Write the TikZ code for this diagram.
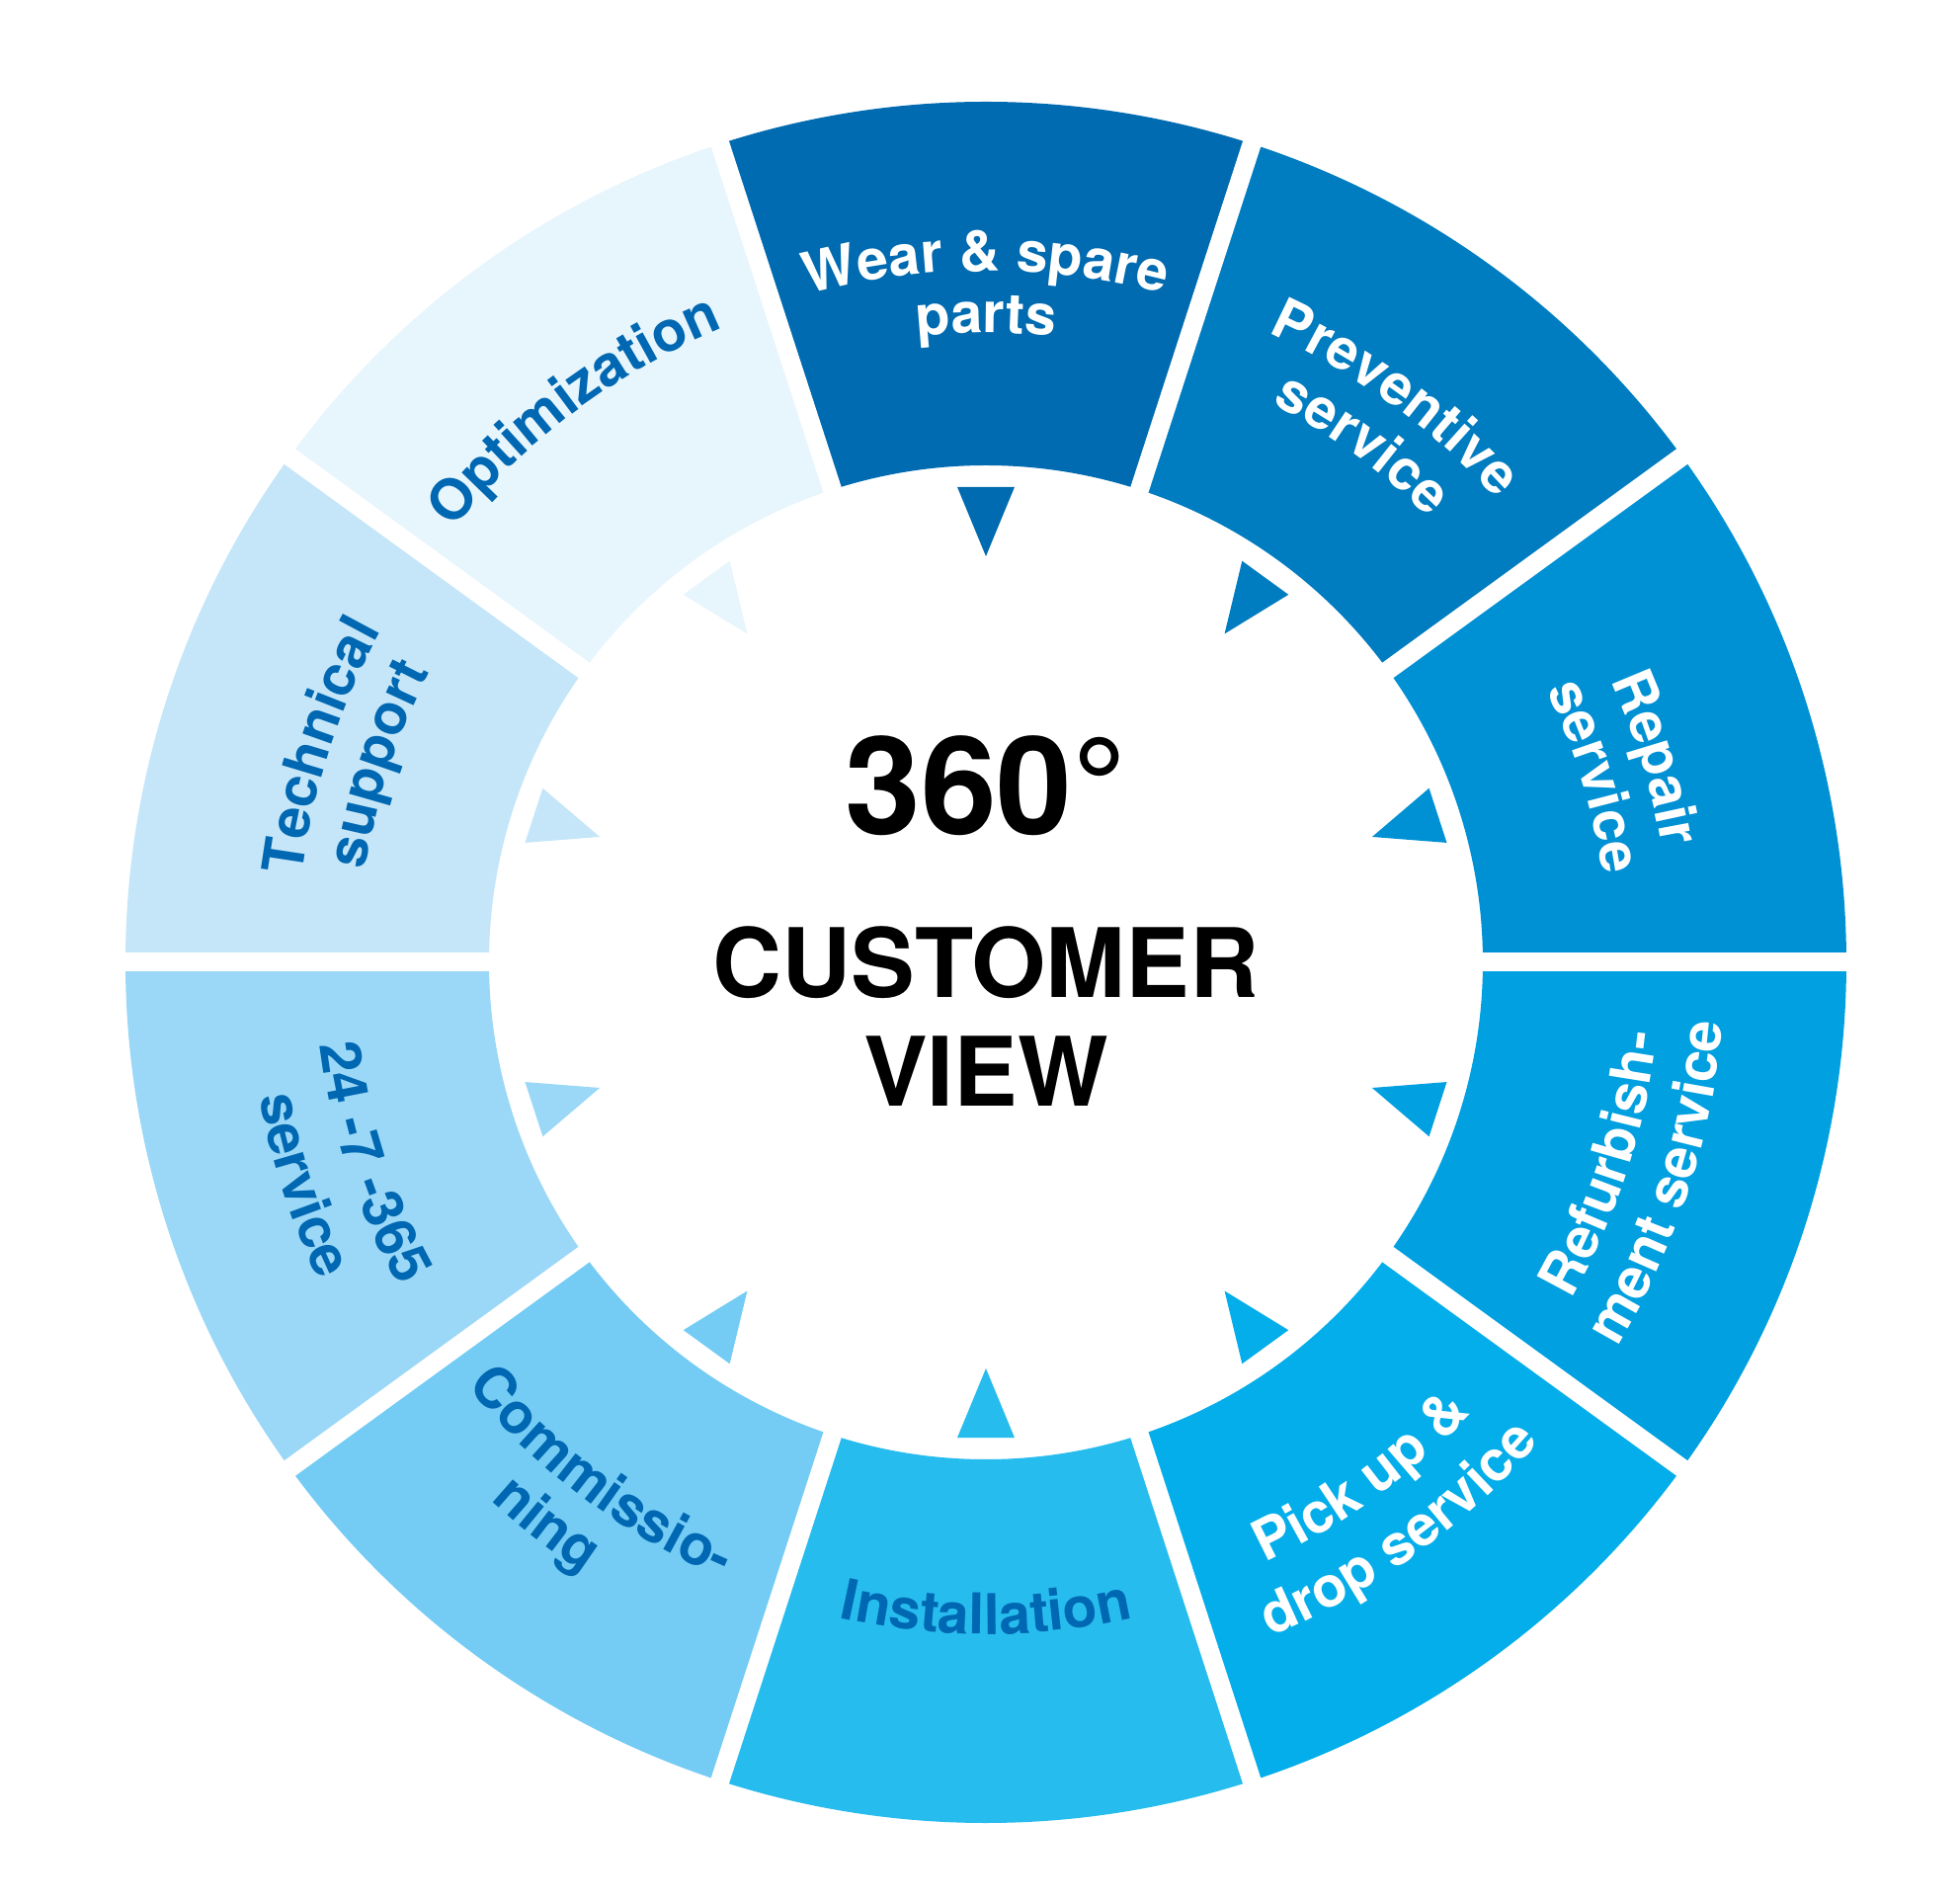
\documentclass[tikz,border=0pt]{standalone}
\usepackage{fontspec}
\setmainfont{TeX Gyre Heros}
\usetikzlibrary{decorations.text}
\definecolor{cWear}{HTML}{006BB0}
\definecolor{cPrev}{HTML}{007CC0}
\definecolor{cRep}{HTML}{0091D5}
\definecolor{cRef}{HTML}{00A0E1}
\definecolor{cPick}{HTML}{04AEEA}
\definecolor{cInst}{HTML}{27BCEE}
\definecolor{cComm}{HTML}{74CCF4}
\definecolor{cTwf}{HTML}{9BD8F7}
\definecolor{cTech}{HTML}{C5E6F9}
\definecolor{cOpt}{HTML}{E7F5FD}
\definecolor{cText}{HTML}{0068B2}
\newcommand{\lblfont}{\fontsize{57pt}{64pt}\selectfont\bfseries}
\newcommand{\uptext}[4]{\path[decorate,decoration={text along path,text align=center,text format delimiters={|}{|},text={|\lblfont\color{#3}|#4}}] ({#1+25}:#2pt) arc[start angle={#1+25},end angle={#1-25},radius=#2pt];}
\newcommand{\downtext}[4]{\path[decorate,decoration={text along path,text align=center,text format delimiters={|}{|},text={|\lblfont\color{#3}|#4}}] ({#1-25}:#2pt) arc[start angle={#1-25},end angle={#1+25},radius=#2pt];}
\tikzset{
  centerbig/.style={font=\fontsize{138pt}{138pt}\selectfont\bfseries, anchor=base, text=black},
  centermid/.style={font=\fontsize{97pt}{97pt}\selectfont\bfseries, anchor=base, text=black},
  gapline/.style={white, line width=19pt}
}
\begin{document}
\begin{tikzpicture}
\useasboundingbox (-998pt,-952pt) rectangle (986pt,974pt);
\fill[white] (-998pt,-952pt) rectangle (986pt,974pt);
% ring segments and their inner pointers
\foreach \a/\c in {72/cWear,36/cPrev,0/cRep,-36/cRef,-72/cPick,-108/cInst,-144/cComm,-180/cTwf,144/cTech,108/cOpt} {
  \fill[\c] (\a:871pt) arc[start angle=\a, end angle={\a+36}, radius=871pt] -- ({\a+36}:503pt) arc[start angle={\a+36}, end angle=\a, radius=503pt] -- cycle;
  \fill[\c] ({\a+18+3.45}:482pt) -- ({\a+18-3.45}:482pt) -- ({\a+18}:411pt) -- cycle;
}
% white gaps
\foreach \a in {0,36,...,324} \draw[gapline] (0pt,0pt) -- (\a:900pt);
% labels
\uptext{90}{700}{white}{Wear {\&} spare}
\uptext{90}{637}{white}{parts}
\uptext{54}{698}{white}{Preventive}
\uptext{54}{635}{white}{service}
\uptext{17}{694}{white}{Repair}
\uptext{17}{631}{white}{service}
\downtext{-18}{683}{white}{Refurbish-}
\downtext{-18}{748}{white}{ment service}
\downtext{-54}{670}{white}{Pick up {\&}}
\downtext{-54}{741}{white}{drop service}
\downtext{-90}{680}{cText}{Installation}
\downtext{-127}{678}{cText}{Commissio-}
\downtext{-128}{740}{cText}{ning}
\downtext{-162}{679}{cText}{24 -7 -365}
\downtext{-162}{748}{cText}{service}
\uptext{162}{698}{cText}{Technical}
\uptext{162}{635}{cText}{support}
\uptext{126.7}{695}{cText}{Optimization}
% center
\node[centerbig] (deg) at (0pt,129pt) {360°};
\node[centermid] (cust) at (0pt,-36pt) {CUSTOMER};
\node[centermid] (view) at (0pt,-146pt) {VIEW};
\end{tikzpicture}
\end{document}
